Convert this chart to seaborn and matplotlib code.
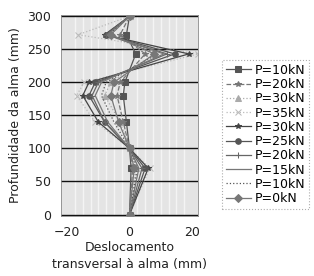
import numpy as np
import pandas as pd
import seaborn as sns
import matplotlib
matplotlib.use("Agg")
from matplotlib import pyplot as plt

# depth along the web (mm)
depth = [0, 70, 100, 140, 180, 200, 243, 272, 300]

# lateral displacement (mm) for each load step
labels = ["P=10kN", "P=20kN", "P=30kN", "P=35kN", "P=30kN",
          "P=25kN", "P=20kN", "P=15kN", "P=10kN", "P=0kN"]
p10a = [0, 0.5, 0, -1, -2, -1.5, 2, -1, 0]
p20a = [0, 1, 0, -2, -4, -3, 5, -3, 0]
p30a = [0, 2, 0, -3, -8, -6, 8, -7, 0]
p35 = [0, 6.5, 0, -11, -17, -14.5, 22, -16.5, 0]
p30b = [0, 6, 0, -10, -15, -13, 19, -8, 0]
p25 = [0, 5, 0, -8, -13, -11, 14.5, -7.5, 0]
p20b = [0, 4, 0, -8, -12, -10, 12, -7.5, 0]
p15 = [0, 3, 0, -7, -11, -9, 11, -7, 0]
p10b = [0, 2.5, 0, -5, -9, -7.5, 9, -6.5, 0]
p0 = [0, 1.5, 0, -3.5, -6, -5, 8, -6, 0]
series = [p10a, p20a, p30a, p35, p30b, p25, p20b, p15, p10b, p0]

# line look per series (marker, colour, linestyle)
styles = [("s", "#555555", "-"), ("*", "#777777", "--"), ("^", "#aaaaaa", ":"),
          ("x", "#bbbbbb", ":"), ("*", "#444444", "-"), ("o", "#555555", "-"),
          ("+", "#666666", "-"), (None, "#777777", "-"), (None, "#555555", ":"),
          ("D", "#777777", "-")]

plt.rcParams['font.family'] = ['DejaVu Sans']
fig = plt.figure(figsize=(3.14, 2.76), dpi=100)
ax = fig.add_axes([0.194, 0.218, 0.437, 0.728])
ax.set_facecolor("#e4e4e4")

for vals, lab, (m, c, ls) in zip(series, labels, styles):
    df = pd.DataFrame({"disp": vals, "depth": depth})
    sns.lineplot(data=df, x="disp", y="depth", sort=False, orient="y",
                 color=c, marker=m, linestyle=ls, linewidth=0.9,
                 markersize=4, markeredgecolor=c, label=lab, ax=ax)

ax.set_xlim(-22, 22)
ax.set_ylim(-2, 302)
ax.set_xticks([-20, 0, 20])
ax.set_yticks([0, 50, 100, 150, 200, 250, 300])
ax.set_xticks(np.arange(-20, 22.5, 2.5), minor=True)
ax.grid(axis="x", which="minor", color="#f4f4f4", linewidth=1.0)
ax.grid(axis="y", which="major", color="#111111", linewidth=1.0)
ax.set_axisbelow(True)
ax.tick_params(length=0, labelsize=9, colors="#222222", pad=7)
ax.tick_params(which="minor", length=0)
for s in ax.spines.values():
    s.set_color("#888888")
    s.set_linewidth(0.6)

ax.set_xlabel("Deslocamento\ntransversal à alma (mm)", fontsize=9,
              color="#222222", linespacing=1.4, labelpad=2)
ax.set_ylabel("Profundidade da alma (mm)", fontsize=9, color="#222222")

leg = ax.legend(loc="upper left", bbox_to_anchor=(1.175, 0.775), fontsize=9,
                frameon=True, fancybox=False, handlelength=2.0,
                labelspacing=0.1, borderpad=0.3, handletextpad=0.3,
                borderaxespad=0)
leg.get_frame().set_edgecolor("#999999")
leg.get_frame().set_linestyle(":")
leg.get_frame().set_linewidth(0.8)

fig.savefig("out.png", dpi=100)
